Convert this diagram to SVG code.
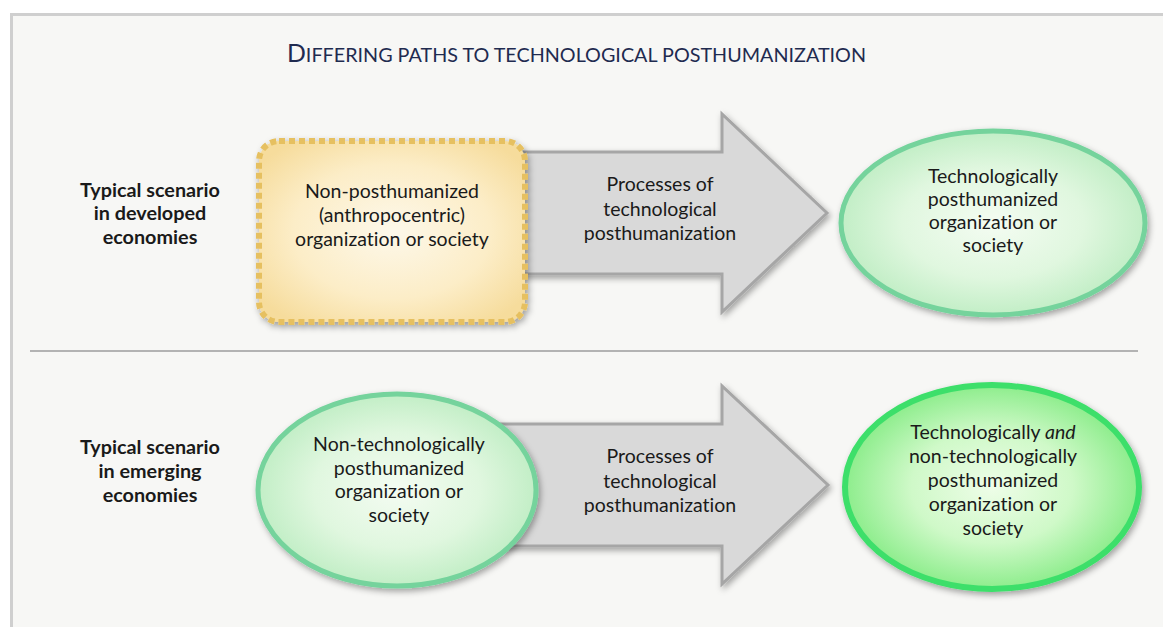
<svg xmlns="http://www.w3.org/2000/svg" width="1163" height="627" viewBox="0 0 1163 627">
  <style>
    text { font-variant-ligatures: none; }
    .label { font-family: Lato, "Open Sans", "Liberation Sans", sans-serif; font-size: 19.8px; font-weight: bold; fill: #1a1a1a; text-anchor: middle; }
    .txt { font-family: Lato, "Open Sans", "Liberation Sans", sans-serif; font-size: 19.5px; fill: #1a1a1a; text-anchor: middle; }
    .title { font-family: Lato, "Open Sans", "Liberation Sans", sans-serif; fill: #1f2b50; }
    .arrow { fill: #d9d9d9; stroke: #a6a6a6; stroke-width: 3; stroke-linejoin: miter; }
  </style>
  <defs>
    <filter id="shadow" x="-20%" y="-20%" width="140%" height="150%">
      <feDropShadow dx="2" dy="3" stdDeviation="3" flood-color="#000" flood-opacity="0.35"/>
    </filter>
    <radialGradient id="gold" cx="50%" cy="50%" r="62%">
      <stop offset="0" stop-color="#fdf8ea"/>
      <stop offset="0.6" stop-color="#fcedc7"/>
      <stop offset="1" stop-color="#f6dc9c"/>
    </radialGradient>
    <radialGradient id="mint" cx="50%" cy="50%" r="50%">
      <stop offset="0" stop-color="#f4fcf2"/>
      <stop offset="0.6" stop-color="#e0f7df"/>
      <stop offset="1" stop-color="#c2eec6"/>
    </radialGradient>
    <radialGradient id="lime" cx="50%" cy="50%" r="50%">
      <stop offset="0" stop-color="#eefde8"/>
      <stop offset="0.55" stop-color="#cff9c8"/>
      <stop offset="1" stop-color="#8ded8c"/>
    </radialGradient>
  </defs>

  <!-- canvas and frame -->
  <rect x="0" y="0" width="1163" height="627" fill="#ffffff"/>
  <rect x="11.5" y="14.5" width="1200" height="700" fill="#f7f7f5" stroke="#cfcfcf" stroke-width="3"/>

  <!-- title -->
  <text id="title" class="title" x="287" y="62" textLength="579" lengthAdjust="spacingAndGlyphs"><tspan font-size="24.5">D</tspan><tspan font-size="19.5">IFFERING PATHS TO TECHNOLOGICAL POSTHUMANIZATION</tspan></text>

  <!-- row labels -->
  <g id="label-developed">
    <text class="label" x="150" y="197">Typical scenario</text>
    <text class="label" x="150" y="220">in developed</text>
    <text class="label" x="150" y="244">economies</text>
  </g>
  <g id="label-emerging">
    <text class="label" x="150" y="454">Typical scenario</text>
    <text class="label" x="150" y="478">in emerging</text>
    <text class="label" x="150" y="502">economies</text>
  </g>

  <!-- divider between the two scenarios -->
  <line x1="30" y1="351" x2="1138" y2="351" stroke="#b3b3b3" stroke-width="2"/>

  <!-- process arrows -->
  <g id="connectors">
    <g id="arrow-developed">
      <path class="arrow" filter="url(#shadow)" d="M500,152 L722,152 L722,114 L827,213 L722,312 L722,274 L500,274 Z"/>
      <text class="txt" x="660" y="191">Processes of</text>
      <text class="txt" x="660" y="216">technological</text>
      <text class="txt" x="660" y="240">posthumanization</text>
    </g>
    <g id="arrow-emerging">
      <path class="arrow" filter="url(#shadow)" d="M500,424 L722,424 L722,386 L828,485 L722,584 L722,546 L500,546 Z"/>
      <text class="txt" x="660" y="463">Processes of</text>
      <text class="txt" x="660" y="488">technological</text>
      <text class="txt" x="660" y="512">posthumanization</text>
    </g>
  </g>

  <!-- developed economies: start state -->
  <g id="node-non-posthumanized">
    <rect x="259" y="141" width="266" height="181" rx="20" ry="20" fill="url(#gold)" stroke="#e6c060" stroke-width="6" stroke-dasharray="6 4" filter="url(#shadow)"/>
    <text class="txt" x="392" y="198">Non-posthumanized</text>
    <text class="txt" x="392" y="222">(anthropocentric)</text>
    <text class="txt" x="392" y="246">organization or society</text>
  </g>

  <!-- developed economies: end state -->
  <g id="node-tech-posthumanized">
    <ellipse cx="993" cy="223" rx="152" ry="92" fill="url(#mint)" stroke="#74d39c" stroke-width="5" filter="url(#shadow)"/>
    <text class="txt" x="993" y="183">Technologically</text>
    <text class="txt" x="993" y="206">posthumanized</text>
    <text class="txt" x="993" y="229">organization or</text>
    <text class="txt" x="993" y="252">society</text>
  </g>

  <!-- emerging economies: start state -->
  <g id="node-non-tech-posthumanized">
    <ellipse cx="397" cy="490" rx="139" ry="96" fill="url(#mint)" stroke="#74d39c" stroke-width="5" filter="url(#shadow)"/>
    <text class="txt" x="399" y="451">Non-technologically</text>
    <text class="txt" x="399" y="475">posthumanized</text>
    <text class="txt" x="399" y="498">organization or</text>
    <text class="txt" x="399" y="522">society</text>
  </g>

  <!-- emerging economies: end state -->
  <g id="node-both-posthumanized">
    <ellipse cx="992" cy="487" rx="147" ry="102" fill="url(#lime)" stroke="#3ddf6b" stroke-width="6" filter="url(#shadow)"/>
    <text class="txt" x="993" y="439">Technologically <tspan font-style="italic">and</tspan></text>
    <text class="txt" x="993" y="463">non-technologically</text>
    <text class="txt" x="993" y="487">posthumanized</text>
    <text class="txt" x="993" y="511">organization or</text>
    <text class="txt" x="993" y="535">society</text>
  </g>
</svg>
